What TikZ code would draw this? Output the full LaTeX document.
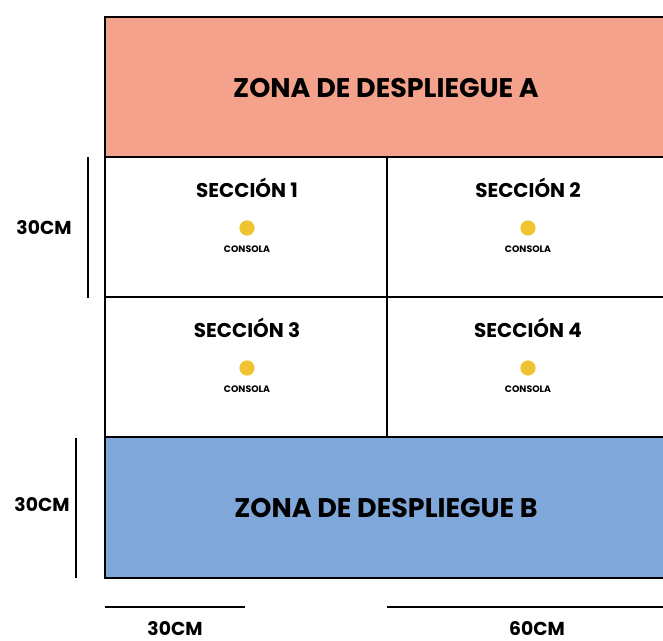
\documentclass[tikz,border=0pt]{standalone}
\usepackage{fontspec}
\setmainfont{Poppins}
\definecolor{zoneAred}{HTML}{F4A28C}
\definecolor{zoneBblue}{HTML}{7FA7D9}
\definecolor{consolegold}{HTML}{F0C431}
\tikzset
 {frame/.style = {draw=black, line width=1.6pt},       % outline of the floor plan
  dimline/.style = {draw=black, line width=1.4pt},     % measuring bars
  zonetitle/.style = {font=\bfseries\fontsize{23}{23}\selectfont},
  sectitle/.style = {font=\bfseries\fontsize{17}{17}\selectfont},
  dimtext/.style = {font=\bfseries\fontsize{16}{16}\selectfont},
  console/.style = {circle, fill=consolegold, inner sep=0pt, minimum size=13pt},
  consolelabel/.style = {font=\bfseries\fontsize{8}{8}\selectfont}
 }

\begin{document}
\begin{tikzpicture}[x=0.03cm, y=-0.03cm]
    \useasboundingbox (0,0) rectangle (663,641);
    % coloured zones
    \fill[zoneAred] (105,17) rectangle (663,157);
    \fill[zoneBblue] (105,437) rectangle (663,578);
    \draw[frame] (663,17) -| (105,578) -- (663,578);
    \foreach \y in {157, 297, 437}
        \draw[frame] (105,\y) -- (663,\y);
    \draw[frame] (387,157) -- (387,437);
    \node[zonetitle] (zoneA) at (386,88) {ZONA DE DESPLIEGUE A};
    \node[zonetitle] (zoneB) at (386,508) {ZONA DE DESPLIEGUE B};
    % sections with their consoles
    \foreach \n/\x/\y in {1/247/188, 2/528/188, 3/247/328, 4/528/328}
     {\node[sectitle] (sec\n) at (\x,\y) {SECCIÓN \n};
      \node[console] (console\n) at (\x,\y+40) {};
      \node[consolelabel] (label\n) at (\x,\y+61) {CONSOLA};
     }
    % measures
    \draw[dimline] (88,157) -- (88,298);
    \draw[dimline] (76,438) -- (76,578);
    \draw[dimline] (105,607) -- (245,607);
    \draw[dimline] (387,607) -- (663,607);
    \node[dimtext] (heightA) at (44,228) {30CM};
    \node[dimtext] (heightB) at (42,505) {30CM};
    \node[dimtext] (widthA) at (175,629) {30CM};
    \node[dimtext] (widthB) at (537,629) {60CM};
\end{tikzpicture}
\end{document}
